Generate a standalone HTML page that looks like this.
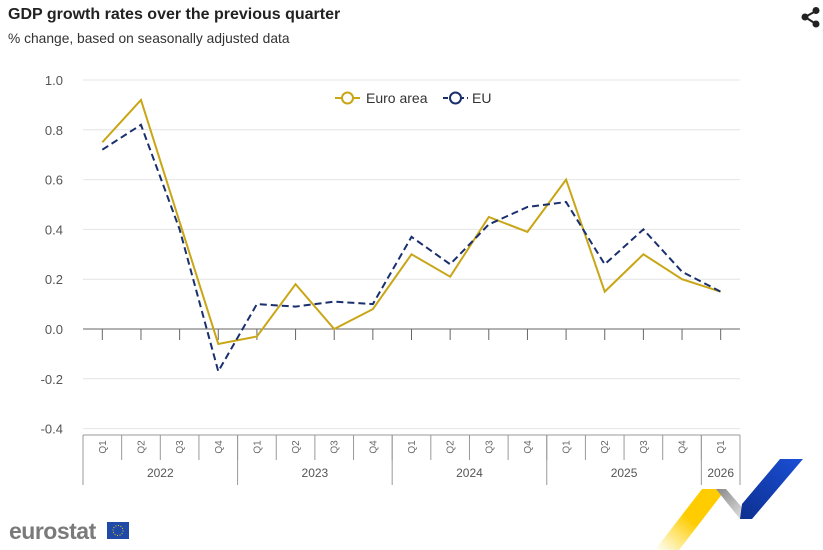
<!DOCTYPE html>
<html><head><meta charset="utf-8">
<style>
html,body{margin:0;padding:0;background:#fff;width:823px;height:550px;overflow:hidden;font-family:"Liberation Sans",sans-serif;}
svg{display:block}
</style></head>
<body>
<svg id="chart" width="823" height="550" viewBox="0 0 823 550" xmlns="http://www.w3.org/2000/svg">
<text x="8" y="19" font-size="16" font-weight="bold" fill="#222">GDP growth rates over the previous quarter</text>
<text x="8" y="43" font-size="13.8" fill="#333">% change, based on seasonally adjusted data</text>
<g fill="#222" stroke="#222">
<line x1="805" y1="17" x2="816" y2="11" stroke-width="2"/><line x1="805" y1="17" x2="816" y2="24" stroke-width="2"/>
<circle cx="805" cy="17" r="3.5" stroke="none"/><circle cx="816" cy="10.5" r="3.5" stroke="none"/><circle cx="816" cy="24" r="3.5" stroke="none"/>
</g>
<g id="grid"></g>
<g id="xaxis"></g>
<g id="series"></g>
<g>
<g>
<line x1="335" y1="98" x2="360" y2="98" stroke="#c9a616" stroke-width="2"/>
<circle cx="347.5" cy="98" r="5.5" fill="#fff" stroke="#c9a616" stroke-width="2"/>
<text x="366" y="103" font-size="14" fill="#333">Euro area</text></g>
<g>
<line x1="443" y1="98" x2="468" y2="98" stroke="#1a2f6e" stroke-width="2" stroke-dasharray="5,3"/>
<circle cx="455.5" cy="98" r="5.5" fill="#fff" stroke="#1a2f6e" stroke-width="2"/>
<text x="472" y="103" font-size="14" fill="#333">EU</text></g>
</g>
<g>
<text x="9" y="539" font-size="23" font-weight="bold" fill="#7a7a7a" letter-spacing="-0.5">eurostat</text>
<rect x="107" y="522" width="22" height="17" fill="#1f4aa8"/>
<circle cx="118" cy="530.5" r="5" fill="none" stroke="#f5d100" stroke-width="1" stroke-dasharray="1,1.6"/>
</g>
<g>
<defs><linearGradient id="yg" x1="0" y1="1" x2="1" y2="0"><stop offset="0" stop-color="#ffd200" stop-opacity="0"/><stop offset="0.5" stop-color="#ffcc00"/></linearGradient>
<linearGradient id="gg" x1="0" y1="0" x2="1" y2="1"><stop offset="0" stop-color="#888"/><stop offset="1" stop-color="#eee"/></linearGradient>
<linearGradient id="bg" x1="0" y1="1" x2="1" y2="0"><stop offset="0" stop-color="#0d2f8f"/><stop offset="1" stop-color="#1a4fd6"/></linearGradient></defs>
<polygon points="655,550 702,489 726,489 679,550" fill="url(#yg)"/>
<polygon points="716,489 726,489 752,519 740,519" fill="url(#gg)"/>
<polygon points="740,519 752,519 803,459 780,459 742,504" fill="url(#bg)"/>
</g>
</svg>
<script>
const categories = ["Q1","Q2","Q3","Q4","Q1","Q2","Q3","Q4","Q1","Q2","Q3","Q4","Q1","Q2","Q3","Q4","Q1"];
const years = ["2022","2023","2024","2025","2026"];
const yearCounts = [4,4,4,4,1];
const euroArea = [0.75,0.92,0.43,-0.06,-0.03,0.18,0.0,0.08,0.30,0.21,0.45,0.39,0.60,0.15,0.30,0.20,0.15];
const eu = [0.72,0.82,0.40,-0.17,0.10,0.09,0.11,0.10,0.37,0.26,0.42,0.49,0.51,0.26,0.40,0.23,0.15];
const yTicks = [1.0,0.8,0.6,0.4,0.2,0.0,-0.2,-0.4];

const NS="http://www.w3.org/2000/svg";
const L=83,R=740,Y0=329,PX=249;
const step=(R-L)/categories.length;
const x=i=>L+step*(i+0.5);
const y=v=>Y0-v*PX;
function mk(tag,attrs,parent){const e=document.createElementNS(NS,tag);for(const k in attrs)e.setAttribute(k,attrs[k]);parent.appendChild(e);return e;}
const grid=document.getElementById('grid'),xa=document.getElementById('xaxis'),ser=document.getElementById('series');
yTicks.forEach(t=>{
  if(t!==0){const g=mk('line',{x1:L,x2:R,y1:y(t),y2:y(t),stroke:'#e4e4e4','stroke-width':1},grid);
  
  }
  const tx=mk('text',{x:63,y:y(t)+5,'font-size':13,fill:'#555','text-anchor':'end'},grid);
  tx.textContent=t.toFixed(1);
  
  
});
const ax=mk('line',{x1:L,x2:R,y1:Y0,y2:Y0,stroke:'#666','stroke-width':1},xa);


const BT=435,QB=460,YB=485;
categories.forEach((c,i)=>{
  mk('line',{x1:x(i),x2:x(i),y1:Y0,y2:Y0+11,stroke:'#666'},xa);
  const t=mk('text',{x:0,y:0,'font-size':10,fill:'#666','text-anchor':'middle',transform:`translate(${x(i)+3.5},447) rotate(-90)`},xa);
  t.textContent=c;
  
  
  if(i>0) mk('line',{x1:L+step*i,x2:L+step*i,y1:BT,y2:QB,stroke:'#999'},xa);
});
mk('line',{x1:L,x2:R,y1:BT,y2:BT,stroke:'#999'},xa);
let s=0;
mk('line',{x1:L,x2:L,y1:BT,y2:YB,stroke:'#999'},xa);
years.forEach((yr,j)=>{
  const e=s+yearCounts[j];
  mk('line',{x1:L+step*e,x2:L+step*e,y1:BT,y2:YB,stroke:'#999'},xa);
  const t=mk('text',{x:L+step*(s+e)/2,y:477,'font-size':12,fill:'#555','text-anchor':'middle'},xa);
  t.textContent=yr;
  
  
  s=e;
});
const p1=mk('polyline',{points:euroArea.map((v,i)=>x(i)+','+y(v)).join(' '),fill:'none',stroke:'#c9a616','stroke-width':2},ser);


const p2=mk('polyline',{points:eu.map((v,i)=>x(i)+','+y(v)).join(' '),fill:'none',stroke:'#1a2f6e','stroke-width':2,'stroke-dasharray':'7,4'},ser);


</script>
</body></html>
